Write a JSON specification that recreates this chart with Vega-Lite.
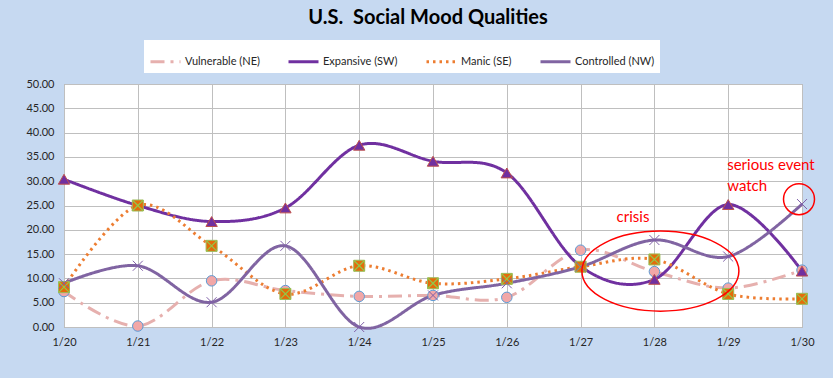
{
  "$schema": "https://vega.github.io/schema/vega-lite/v6.json",
  "autosize": "none",
  "width": 738,
  "height": 243,
  "padding": {"left": 64, "top": 84, "right": 31, "bottom": 51},
  "background": "#C6D9F1",
  "title": {
    "text": "U.S.\u00a0 Social Mood Qualities",
    "fontSize": 20,
    "font": "Lato",
    "fontWeight": "bold",
    "color": "#000000",
    "anchor": "middle",
    "dx": -5,
    "offset": 12
  },
  "datasets": {
    "mood": [
      {"date": "1/20", "series": "Vulnerable (NE)", "value": 7.3},
      {"date": "1/21", "series": "Vulnerable (NE)", "value": 0.2},
      {"date": "1/22", "series": "Vulnerable (NE)", "value": 9.5},
      {"date": "1/23", "series": "Vulnerable (NE)", "value": 7.5},
      {"date": "1/24", "series": "Vulnerable (NE)", "value": 6.3},
      {"date": "1/25", "series": "Vulnerable (NE)", "value": 6.5},
      {"date": "1/26", "series": "Vulnerable (NE)", "value": 6.1},
      {"date": "1/27", "series": "Vulnerable (NE)", "value": 15.8},
      {"date": "1/28", "series": "Vulnerable (NE)", "value": 11.4},
      {"date": "1/29", "series": "Vulnerable (NE)", "value": 8.0},
      {"date": "1/30", "series": "Vulnerable (NE)", "value": 11.7},
      {"date": "1/20", "series": "Expansive (SW)", "value": 30.4},
      {"date": "1/21", "series": "Expansive (SW)", "value": 25.0},
      {"date": "1/22", "series": "Expansive (SW)", "value": 21.7},
      {"date": "1/23", "series": "Expansive (SW)", "value": 24.5},
      {"date": "1/24", "series": "Expansive (SW)", "value": 37.4},
      {"date": "1/25", "series": "Expansive (SW)", "value": 34.1},
      {"date": "1/26", "series": "Expansive (SW)", "value": 31.7},
      {"date": "1/27", "series": "Expansive (SW)", "value": 12.5},
      {"date": "1/28", "series": "Expansive (SW)", "value": 9.8},
      {"date": "1/29", "series": "Expansive (SW)", "value": 25.2},
      {"date": "1/30", "series": "Expansive (SW)", "value": 11.5},
      {"date": "1/20", "series": "Manic (SE)", "value": 8.2},
      {"date": "1/21", "series": "Manic (SE)", "value": 25.0},
      {"date": "1/22", "series": "Manic (SE)", "value": 16.7},
      {"date": "1/23", "series": "Manic (SE)", "value": 6.8},
      {"date": "1/24", "series": "Manic (SE)", "value": 12.6},
      {"date": "1/25", "series": "Manic (SE)", "value": 9.0},
      {"date": "1/26", "series": "Manic (SE)", "value": 9.9},
      {"date": "1/27", "series": "Manic (SE)", "value": 12.4},
      {"date": "1/28", "series": "Manic (SE)", "value": 13.9},
      {"date": "1/29", "series": "Manic (SE)", "value": 6.8},
      {"date": "1/30", "series": "Manic (SE)", "value": 5.8},
      {"date": "1/20", "series": "Controlled (NW)", "value": 9.0},
      {"date": "1/21", "series": "Controlled (NW)", "value": 12.6},
      {"date": "1/22", "series": "Controlled (NW)", "value": 5.1},
      {"date": "1/23", "series": "Controlled (NW)", "value": 16.7},
      {"date": "1/24", "series": "Controlled (NW)", "value": 0.0},
      {"date": "1/25", "series": "Controlled (NW)", "value": 6.5},
      {"date": "1/26", "series": "Controlled (NW)", "value": 9.0},
      {"date": "1/27", "series": "Controlled (NW)", "value": 12.4},
      {"date": "1/28", "series": "Controlled (NW)", "value": 17.9},
      {"date": "1/29", "series": "Controlled (NW)", "value": 14.5},
      {"date": "1/30", "series": "Controlled (NW)", "value": 25.3}
    ],
    "notes": [
      {"date": "1/28", "value": 22.6, "label": "crisis", "side": "right"},
      {"date": "1/29", "value": 33.3, "label": "serious event", "side": "left"},
      {"date": "1/29", "value": 29.0, "label": "watch", "side": "left"}
    ],
    "rings": [
      {"date": "1/28", "value": 11.5, "kind": "ellipse"},
      {"date": "1/30", "value": 26.3, "kind": "circle"}
    ]
  },
  "encoding": {
    "x": {
      "field": "date",
      "type": "ordinal",
      "scale": {"type": "point", "padding": 0},
      "axis": {
        "title": null,
        "labelAngle": 0,
        "grid": true,
        "gridColor": "#BFBFBF",
        "domain": false,
        "ticks": false,
        "labelPadding": 9,
        "labelFontSize": 11,
        "labelColor": "#262626",
        "labelFont": "Lato"
      }
    },
    "y": {
      "field": "value",
      "type": "quantitative",
      "scale": {"domain": [0, 50], "nice": false, "zero": true},
      "axis": {
        "title": null,
        "values": [0, 5, 10, 15, 20, 25, 30, 35, 40, 45, 50],
        "format": ".2f",
        "grid": true,
        "gridColor": "#BFBFBF",
        "domain": false,
        "ticks": false,
        "labelPadding": 10,
        "labelFontSize": 11,
        "labelColor": "#262626",
        "labelFont": "Lato"
      }
    }
  },
  "layer": [
    {
      "data": {"name": "mood"},
      "mark": {"type": "line", "interpolate": "cardinal", "strokeWidth": 3, "clip": false},
      "encoding": {
        "stroke": {
          "field": "series",
          "type": "nominal",
          "sort": ["Vulnerable (NE)", "Expansive (SW)", "Manic (SE)", "Controlled (NW)"],
          "scale": {
            "domain": ["Vulnerable (NE)", "Expansive (SW)", "Manic (SE)", "Controlled (NW)"],
            "range": ["#E6B0AE", "#7030A0", "#ED7D31", "#8064A2"]
          },
          "legend": {
            "title": null,
            "orient": "none",
            "legendX": 80,
            "legendY": -44,
            "direction": "horizontal",
            "fillColor": "white",
            "padding": 5,
            "columnPadding": 22,
            "symbolType": "stroke",
            "symbolSize": 900,
            "symbolStrokeWidth": 3,
            "labelFontSize": 11,
            "labelFont": "Lato",
            "labelColor": "#262626",
            "labelOffset": 3
          }
        },
        "strokeDash": {
          "field": "series",
          "type": "nominal",
          "scale": {
            "domain": ["Vulnerable (NE)", "Expansive (SW)", "Manic (SE)", "Controlled (NW)"],
            "range": [[14, 6, 3, 6], [1, 0], [2.5, 4], [1, 0]]
          },
          "legend": {
            "title": null,
            "orient": "none",
            "legendX": 80,
            "legendY": -44,
            "direction": "horizontal",
            "fillColor": "white",
            "padding": 5,
            "columnPadding": 22,
            "symbolType": "stroke",
            "symbolSize": 900,
            "symbolStrokeWidth": 3,
            "labelFontSize": 11,
            "labelFont": "Lato",
            "labelColor": "#262626",
            "labelOffset": 3
          }
        },
        "detail": {"field": "series"}
      }
    },
    {
      "data": {"name": "mood"},
      "transform": [{"filter": "datum.series === 'Vulnerable (NE)'"}],
      "mark": {"type": "point", "shape": "circle", "filled": true, "fill": "#F2A7A7", "stroke": "#5B9BD5", "strokeWidth": 1, "opacity": 1, "size": 110}
    },
    {
      "data": {"name": "mood"},
      "transform": [{"filter": "datum.series === 'Expansive (SW)'"}],
      "mark": {"type": "point", "shape": "triangle-up", "filled": true, "fill": "#7030A0", "stroke": "#C0504D", "strokeWidth": 1, "opacity": 1, "size": 130}
    },
    {
      "data": {"name": "mood"},
      "transform": [{"filter": "datum.series === 'Manic (SE)'"}],
      "mark": {"type": "point", "shape": "square", "filled": true, "fill": "#E46C0A", "stroke": "#9BBB59", "strokeWidth": 1, "opacity": 1, "size": 121}
    },
    {
      "data": {"name": "mood"},
      "transform": [{"filter": "datum.series === 'Manic (SE)'"}],
      "mark": {"type": "point", "shape": "M-1,-1L1,1M-1,1L1,-1", "filled": false, "stroke": "#92C84A", "strokeWidth": 1.2, "opacity": 1, "size": 110}
    },
    {
      "data": {"name": "mood"},
      "transform": [{"filter": "datum.series === 'Controlled (NW)'"}],
      "mark": {"type": "point", "shape": "M-1,-1L1,1M-1,1L1,-1", "filled": false, "stroke": "#7F5FA8", "strokeWidth": 1, "opacity": 1, "size": 100}
    },
    {
      "data": {"name": "rings"},
      "transform": [{"filter": "datum.kind === 'ellipse'"}],
      "mark": {"type": "point", "shape": "M-1,0A1,0.51 0 1 0 1,0A1,0.51 0 1 0 -1,0Z", "filled": false, "stroke": "#FF0000", "strokeWidth": 1.5, "opacity": 1, "size": 24649, "xOffset": 6}
    },
    {
      "data": {"name": "rings"},
      "transform": [{"filter": "datum.kind === 'circle'"}],
      "mark": {"type": "point", "shape": "circle", "filled": false, "stroke": "#FF0000", "strokeWidth": 1.5, "opacity": 1, "size": 960, "xOffset": -3}
    },
    {
      "data": {"name": "notes"},
      "transform": [{"filter": "datum.side === 'right'"}],
      "mark": {"type": "text", "color": "#FF0000", "fontSize": 15, "font": "Lato", "baseline": "middle", "align": "right", "dx": -5},
      "encoding": {"text": {"field": "label"}}
    },
    {
      "data": {"name": "notes"},
      "transform": [{"filter": "datum.side === 'left'"}],
      "mark": {"type": "text", "color": "#FF0000", "fontSize": 15, "font": "Lato", "baseline": "middle", "align": "left", "dx": -1},
      "encoding": {"text": {"field": "label"}}
    }
  ],
  "config": {
    "view": {"fill": "white", "stroke": "#A6A6A6"},
    "font": "Lato"
  }
}
